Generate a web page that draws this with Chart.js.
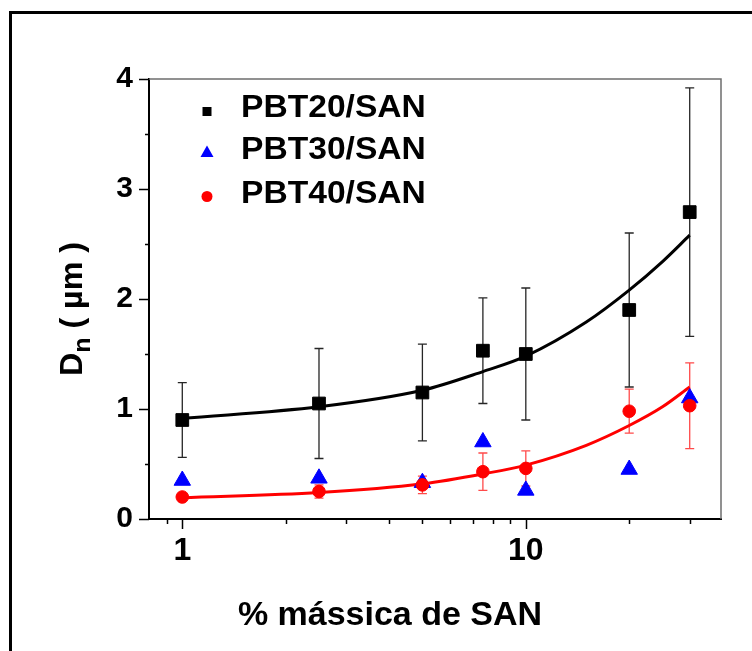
<!DOCTYPE html>
<html>
<head>
<meta charset="utf-8">
<script src="https://cdn.jsdelivr.net/npm/chart.js@4.4.1/dist/chart.umd.min.js"></script>
<style>
  html, body { margin: 0; padding: 0; background: #fff; }
  canvas { display: block; }
</style>
</head>
<body>
<canvas id="c" width="752" height="651"></canvas>
<script>
// SAN content (% by mass) for each blend
const sanContent = [1, 2.5, 5, 7.5, 10, 20, 30];

// Number-average particle diameter Dn (µm) and its spread
const pbt20 = [0.90, 1.05, 1.15, 1.53, 1.50, 1.90, 2.79];
const pbt20Err = [0.34, 0.50, 0.44, 0.48, 0.60, 0.70, 1.13];
const pbt30 = [0.35, 0.37, 0.33, 0.70, 0.26, 0.45, 1.10];
const pbt40 = [0.20, 0.25, 0.31, 0.43, 0.46, 0.98, 1.03];
const pbt40Err = [0.03, 0.06, 0.08, 0.17, 0.16, 0.20, 0.39];

// Trend curves through the PBT20 and PBT40 series
const fitX = [1, 2.5, 5, 7.5, 10, 15, 20, 25, 30];
const fit20 = [0.915, 1.02, 1.17, 1.34, 1.48, 1.79, 2.08, 2.34, 2.58];
const fit40 = [0.194, 0.24, 0.32, 0.41, 0.49, 0.67, 0.85, 1.02, 1.20];

// Axis ticks
const xMajorTicks = [1, 10];
const xMinorTicks = [0.9, 2, 3, 4, 5, 6, 7, 8, 9, 20, 30];
const yMajorTicks = [0, 1, 2, 3, 4];
const yMinorTicks = [0.5, 1.5, 2.5, 3.5];

const seriesLabels = ['PBT20/SAN', 'PBT30/SAN', 'PBT40/SAN'];
const seriesColors = ['#000000', '#0000ff', '#ff0000'];
const xTitle = '% mássica de SAN';

const FONT = "'Liberation Sans', Arial, Helvetica, sans-serif";

const pts = (xs, ys) => xs.map((x, i) => ({ x: x, y: ys[i] }));

// Vertical error bars with caps
const errorBars = {
  id: 'errorBars',
  beforeDatasetsDraw(chart) {
    const { ctx, scales: { x, y } } = chart;
    const sets = [
      { ys: pbt20, errs: pbt20Err, color: '#262626' },
      { ys: pbt40, errs: pbt40Err, color: '#ff4a4a' }
    ];
    ctx.save();
    ctx.lineWidth = 1.3;
    sets.forEach(s => {
      ctx.strokeStyle = s.color;
      sanContent.forEach((v, i) => {
        const px = x.getPixelForValue(v);
        const top = y.getPixelForValue(s.ys[i] + s.errs[i]);
        const bot = y.getPixelForValue(s.ys[i] - s.errs[i]);
        ctx.beginPath();
        ctx.moveTo(px, top); ctx.lineTo(px, bot);
        ctx.moveTo(px - 4.5, top); ctx.lineTo(px + 4.5, top);
        ctx.moveTo(px - 4.5, bot); ctx.lineTo(px + 4.5, bot);
        ctx.stroke();
      });
    });
    ctx.restore();
  }
};

// Bold text slightly widened, centred or left-aligned at (x, y)
function wideText(ctx, text, x, y, align, sx) {
  ctx.save();
  ctx.translate(x, y);
  ctx.scale(sx, 1);
  ctx.textAlign = align;
  ctx.fillText(text, 0, 0);
  ctx.restore();
}

// Frame, tick marks, titles and legend
const decorations = {
  id: 'decorations',
  afterDraw(chart) {
    const { ctx, chartArea: a, scales: { x, y } } = chart;
    ctx.save();

    // outer frame (top and left)
    ctx.strokeStyle = '#000';
    ctx.lineWidth = 3;
    ctx.beginPath();
    ctx.moveTo(10.5, 651); ctx.lineTo(10.5, 12.5); ctx.lineTo(752, 12.5);
    ctx.stroke();

    // top and right plot edges
    ctx.strokeStyle = '#6e6e6e';
    ctx.lineWidth = 1.5;
    ctx.beginPath();
    ctx.moveTo(a.left, a.top); ctx.lineTo(a.right, a.top); ctx.lineTo(a.right, a.bottom);
    ctx.stroke();

    // tick marks
    ctx.strokeStyle = '#000';
    ctx.lineWidth = 1.5;
    ctx.beginPath();
    xMajorTicks.forEach(v => { const p = Math.round(x.getPixelForValue(v)) + 0.5; ctx.moveTo(p, a.bottom); ctx.lineTo(p, a.bottom + 10); });
    xMinorTicks.forEach(v => { const p = Math.round(x.getPixelForValue(v)) + 0.5; ctx.moveTo(p, a.bottom); ctx.lineTo(p, a.bottom + 5); });
    yMajorTicks.forEach(v => { const p = Math.round(y.getPixelForValue(v)) + 0.5; ctx.moveTo(a.left, p); ctx.lineTo(a.left - 10, p); });
    yMinorTicks.forEach(v => { const p = Math.round(y.getPixelForValue(v)) + 0.5; ctx.moveTo(a.left, p); ctx.lineTo(a.left - 4, p); });
    ctx.stroke();

    // x title
    ctx.fillStyle = '#000';
    ctx.font = 'bold 33px ' + FONT;
    ctx.textBaseline = 'alphabetic';
    wideText(ctx, xTitle, 390, 625, 'center', 1.03);

    // y title: D with subscript n, then ( µm )
    ctx.save();
    ctx.translate(82, 309);
    ctx.rotate(-Math.PI / 2);
    ctx.scale(1.04, 1);
    ctx.textAlign = 'left';
    const big = 'bold 31px ' + FONT, small = 'bold 24px ' + FONT;
    ctx.font = big; const wD = ctx.measureText('D').width;
    ctx.font = small; const wn = ctx.measureText('n').width;
    ctx.font = big; const wr = ctx.measureText(' ( µm )').width;
    let sx = -(wD + wn + wr) / 2;
    ctx.font = big; ctx.fillText('D', sx, 0); sx += wD;
    ctx.font = small; ctx.fillText('n', sx, 8); sx += wn;
    ctx.font = big; ctx.fillText(' ( µm )', sx, 0);
    ctx.restore();

    // legend
    const rows = [
      { mx: 207, my: 111.5, ty: 116.5, shape: 'rect' },
      { mx: 207, my: 152, ty: 158.5, shape: 'triangle' },
      { mx: 207, my: 196.5, ty: 202.5, shape: 'circle' }
    ];
    rows.forEach((r, i) => {
      ctx.fillStyle = seriesColors[i];
      ctx.beginPath();
      if (r.shape === 'rect') {
        ctx.rect(r.mx - 4.5, r.my - 4.5, 9, 9);
      } else if (r.shape === 'triangle') {
        ctx.moveTo(r.mx, r.my - 6.5);
        ctx.lineTo(r.mx + 6.5, r.my + 5);
        ctx.lineTo(r.mx - 6.5, r.my + 5);
        ctx.closePath();
      } else {
        ctx.arc(r.mx, r.my, 5.5, 0, Math.PI * 2);
      }
      ctx.fill();
      ctx.fillStyle = '#000';
      ctx.font = 'bold 32px ' + FONT;
      wideText(ctx, seriesLabels[i], 241, r.ty, 'left', 1.05);
    });

    ctx.restore();
  }
};

new Chart(document.getElementById('c'), {
  type: 'scatter',
  data: {
    datasets: [
      {
        label: seriesLabels[0], data: pts(sanContent, pbt20), order: 0,
        pointStyle: 'rect', pointRadius: 9, borderWidth: 1,
        backgroundColor: '#000', borderColor: '#000'
      },
      {
        label: seriesLabels[2], data: pts(sanContent, pbt40), order: 1,
        pointStyle: 'circle', pointRadius: 6.3, borderWidth: 1,
        backgroundColor: '#ff0000', borderColor: '#ff0000'
      },
      {
        label: seriesLabels[1], data: pts(sanContent, pbt30), order: 2,
        pointStyle: 'triangle', pointRadius: 9.5, borderWidth: 1,
        backgroundColor: '#0000ff', borderColor: '#0000ff'
      },
      {
        label: 'fit PBT20', type: 'line', data: pts(fitX, fit20), order: 3,
        borderColor: '#000', borderWidth: 3, pointRadius: 0, fill: false,
        cubicInterpolationMode: 'monotone', showLine: true
      },
      {
        label: 'fit PBT40', type: 'line', data: pts(fitX, fit40), order: 4,
        borderColor: '#ff0000', borderWidth: 3, pointRadius: 0, fill: false,
        cubicInterpolationMode: 'monotone', showLine: true
      }
    ]
  },
  options: {
    responsive: false,
    animation: false,
    devicePixelRatio: 1,
    layout: { padding: { left: 0, top: 79, right: 31, bottom: 0 } },
    plugins: { legend: { display: false }, tooltip: { enabled: false } },
    scales: {
      x: {
        type: 'logarithmic', min: 0.8, max: 37,
        afterBuildTicks(s) { s.ticks = xMajorTicks.concat(xMinorTicks).sort((a, b) => a - b).map(v => ({ value: v })); },
        afterFit(s) { s.height = 132; },
        grid: { display: false, drawTicks: false },
        border: { display: true, color: '#000', width: 2 },
        ticks: {
          autoSkip: false, maxRotation: 0, padding: 13, color: '#000',
          font: { family: FONT, size: 32, weight: 'bold' },
          callback: v => xMajorTicks.includes(v) ? String(v) : ''
        }
      },
      y: {
        min: 0, max: 4,
        afterBuildTicks(s) { s.ticks = yMajorTicks.map(v => ({ value: v })); },
        afterFit(s) { s.width = 149; },
        grid: { display: false, drawTicks: false },
        border: { display: true, color: '#000', width: 2 },
        ticks: {
          padding: 16, color: '#000',
          font: { family: FONT, size: 30, weight: 'bold' },
          callback: v => String(v)
        }
      }
    }
  },
  plugins: [errorBars, decorations]
});
</script>
</body>
</html>
